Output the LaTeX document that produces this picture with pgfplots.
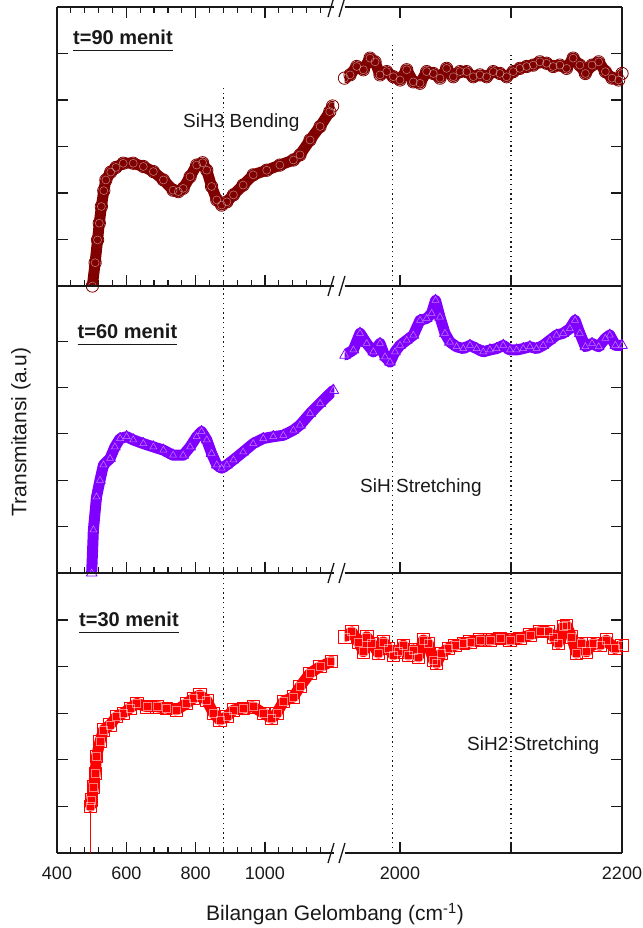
\documentclass[border=0pt]{standalone}
\usepackage{pgfplots}
\pgfplotsset{compat=1.18}
\usepackage{fontspec}
\setmainfont{Liberation Sans}
\newcommand\fs[1]{\fontsize{#1}{#1}\selectfont}
\definecolor{c90}{RGB}{128,0,0}
\definecolor{c60}{RGB}{128,0,255}
\definecolor{c30}{RGB}{255,0,0}
\definecolor{axc}{RGB}{25,25,25}
\pgfplotsset{
  base/.style={scale only axis, anchor=south west, ymin=0, tick align=inside,
    major tick length=11pt, minor tick length=6pt,
    axis line style={line width=1.3pt, draw=axc},
    major tick style={line width=1.2pt, draw=axc},
    minor tick style={line width=1.2pt, draw=axc},
    ytick={0,1,2,3,4,5}, yticklabels={},
    axis x line*=box,
    /pgf/number format/assume math mode=true,
    xticklabel style={font=\fs{18}, inner sep=0pt, yshift=-14pt, text=axc},
    clip=true},
  leftax/.style={base, axis y line*=left, xmin=400, xmax=1200, width=277.3pt,
    xtick={400,600,800,1000}, minor xtick={440,480,...,1160}},
  rightax/.style={base, axis y line*=right, xmin=1950, xmax=2200, width=277.5pt,
    xtick={2000,2100,2200}},
  dotl/.style={axc, line width=1.3pt, dash pattern=on 1.4pt off 3.4pt, forget plot},
  band/.style={#1, line width=11pt, line join=round, line cap=round, mark size=6.2pt,
    mark options={solid, line width=0.8pt, draw=#1, fill=none}},
  tex/.style={only marks, mark size=4pt,
    mark options={solid, line width=0.5pt, draw=white, fill=none, draw opacity=0.5}},
}
\begin{document}
\begin{tikzpicture}[x=1pt,y=1pt]
\useasboundingbox (0,0) rectangle (642,928);

% ---------------- panel 1 (t=90) ----------------
\pgfplotstableread{
x y
498 -0.3
502 0
510 0.5
517 0.99
522 1.35
528 1.71
535 2.05
541 2.28
555 2.45
570 2.55
591 2.64
620 2.64
649 2.57
678 2.46
707 2.28
735 2.06
750 2.03
764 2.10
784 2.35
803 2.60
820 2.65
832 2.49
846 2.14
861 1.85
875 1.74
890 1.81
909 1.96
937 2.17
966 2.39
1005 2.49
1043 2.60
1082 2.71
1101 2.82
1130 3.14
1159 3.43
1187 3.75
1195 3.87
}\pone
\pgfplotstableread{
x y
1950 4.47
1955 4.54
1961 4.72
1967 4.65
1973 4.90
1977.5 4.82
1982 4.54
1988 4.61
1994 4.50
2000 4.43
2006 4.65
2012 4.39
2018 4.36
2024 4.61
2030 4.57
2036 4.47
2042 4.68
2048 4.50
2054 4.61
2060 4.61
2066 4.50
2072 4.54
2078 4.50
2084 4.61
2090 4.57
2096 4.50
2102 4.61
2108 4.68
2114 4.72
2120 4.75
2126 4.82
2132 4.79
2138 4.72
2144 4.75
2150 4.68
2156 4.90
2162 4.75
2167 4.57
2173 4.75
2179 4.82
2185 4.61
2191 4.47
2197 4.43
2200 4.57
}\ponr
\begin{axis}[leftax, at={(57pt,642pt)}, height=279pt, ymax=6, xticklabels={}, xtick pos=both]
\addplot[dotl] coordinates {(880,0) (880,4.32)};
\addplot[band=c90, mark=o] table {\pone};
\addplot[tex, mark=o] table {\pone};
\end{axis}
\begin{axis}[rightax, at={(344.5pt,642pt)}, height=279pt, ymax=6, xticklabels={}, xtick pos=both]
\addplot[dotl] coordinates {(1993,0) (1993,5.18)};
\addplot[dotl] coordinates {(2100,0) (2100,4.97)};
\addplot[band=c90, mark=o] table {\ponr};
\addplot[tex, mark=o] table {\ponr};
\end{axis}

% ---------------- panel 2 (t=60) ----------------
\pgfplotstableread{
x y
495 -0.3
500 0
505 0.93
514 1.64
524 2.00
534 2.33
553 2.47
567 2.72
582 2.90
601 2.94
620 2.87
649 2.79
678 2.72
707 2.65
735 2.54
764 2.54
784 2.72
803 2.94
817 3.05
832 2.87
846 2.58
861 2.33
875 2.26
890 2.33
909 2.44
937 2.61
966 2.79
995 2.90
1024 2.94
1053 2.97
1082 3.08
1101 3.19
1130 3.44
1159 3.66
1197 3.94
}\ptwo
\pgfplotstableread{
x y
1950.5 4.70
1958 4.81
1964 5.17
1970 4.95
1976 4.77
1982 4.95
1986.5 4.66
1991 4.55
1995.5 4.77
2000 4.91
2006 5.02
2012 5.13
2018 5.45
2024 5.49
2028.5 5.60
2032 5.88
2036 5.52
2040.5 5.17
2045 4.98
2051 4.88
2057 4.84
2063 4.91
2069 4.84
2075 4.77
2081 4.81
2087 4.84
2093 4.91
2099 4.81
2105 4.81
2111 4.84
2117 4.88
2123 4.84
2129 4.91
2135 5.02
2141 5.13
2147 5.17
2153 5.27
2157.7 5.45
2162 5.17
2167 4.88
2173 4.95
2179 4.88
2185 5.06
2189 5.13
2194 4.91
2200 4.91
}\ptwr
\begin{axis}[leftax, at={(57pt,355pt)}, height=287pt, ymax=6.19, xticklabels={}, xtick pos=left]
\addplot[dotl] coordinates {(880,0) (880,6.19)};
\addplot[band=c60, mark=triangle] table {\ptwo};
\addplot[tex, mark=triangle] table {\ptwo};
\end{axis}
\begin{axis}[rightax, at={(344.5pt,355pt)}, height=287pt, ymax=6.19, xticklabels={}, xtick pos=left]
\addplot[dotl] coordinates {(1993,0) (1993,6.19)};
\addplot[dotl] coordinates {(2100,0) (2100,6.19)};
\addplot[band=c60, mark=triangle] table {\ptwr};
\addplot[tex, mark=triangle] table {\ptwr};
\end{axis}

% ---------------- panel 3 (t=30) ----------------
\pgfplotstableread{
x y
497 1.0
500 1.14
505 1.42
510 1.71
514 2.07
524 2.39
534 2.64
553 2.75
572 2.93
591 3.00
611 3.11
630 3.21
659 3.14
688 3.14
716 3.11
745 3.07
774 3.21
793 3.32
812 3.39
832 3.28
851 3.00
870 2.85
890 2.93
909 3.07
937 3.11
966 3.14
995 3.00
1019 2.89
1034 3.00
1053 3.25
1082 3.35
1101 3.57
1130 3.86
1159 4.00
1192 4.11
}\pthr
\pgfplotstableread{
x y
1950.5 4.64
1956.5 4.75
1962.5 4.53
1967 4.32
1970 4.64
1974.5 4.50
1980.5 4.29
1985 4.53
1989.5 4.39
1994 4.25
1998.5 4.32
2003 4.46
2007.5 4.25
2012 4.36
2016.5 4.21
2021 4.57
2025.5 4.50
2030 4.14
2033 4.07
2037.5 4.29
2043.5 4.39
2049.5 4.46
2057 4.50
2063 4.53
2072 4.57
2081 4.57
2090 4.61
2099 4.57
2108 4.61
2117 4.68
2126 4.75
2133.5 4.75
2138 4.64
2142.5 4.50
2147 4.86
2150 4.89
2154.5 4.64
2159 4.29
2163.5 4.50
2168 4.32
2174 4.50
2180 4.46
2186 4.57
2193.5 4.39
2200 4.46
}\pthrr
\begin{axis}[leftax, at={(57pt,75pt)}, height=280pt, ymax=6.01, xtick pos=left,
  xticklabels={400,600,800,1000}]
\addplot[dotl] coordinates {(880,0) (880,6.01)};
\addplot[c30, line width=1.5pt, forget plot] coordinates {(497,-0.3) (497,1.0)};
\addplot[band=c30, mark=square] table {\pthr};
\addplot[tex, mark=square] table {\pthr};
\end{axis}
\begin{axis}[rightax, at={(344.5pt,75pt)}, height=280pt, ymax=6.01, xtick pos=left,
  xticklabels={2000,,2200}]
\addplot[dotl] coordinates {(1993,0) (1993,6.01)};
\addplot[dotl] coordinates {(2100,0) (2100,6.01)};
\addplot[band=c30, mark=square] table {\pthrr};
\addplot[tex, mark=square] table {\pthrr};
\end{axis}

% ---------------- axis breaks ----------------
\foreach \yy in {921,642,355,75}{
  \draw[axc, line width=1.3pt] (328,\yy-10) -- (334,\yy+10);
  \draw[axc, line width=1.3pt] (339,\yy-10) -- (345,\yy+10);
}

% ---------------- texts ----------------
\node[anchor=base west, inner sep=0, font=\bfseries\fs{20}, text=axc] (t90) at (73,883) {t=90 menit};
\draw[axc, line width=1.6pt] ([yshift=-5.5pt]t90.base west) -- ([yshift=-5.5pt]t90.base east);
\node[anchor=base west, inner sep=0, font=\bfseries\fs{20}, text=axc] (t60) at (77.5,589) {t=60 menit};
\draw[axc, line width=1.6pt] ([yshift=-5.5pt]t60.base west) -- ([yshift=-5.5pt]t60.base east);
\node[anchor=base west, inner sep=0, font=\bfseries\fs{20}, text=axc] (t30) at (79,301) {t=30 menit};
\draw[axc, line width=1.6pt] ([yshift=-5.5pt]t30.base west) -- ([yshift=-5.5pt]t30.base east);

\node[anchor=base west, inner sep=0, font=\fs{19}, text=axc] at (183,800) {SiH3 Bending};
\node[anchor=base west, inner sep=0, font=\fs{19}, text=axc] at (360,435) {SiH Stretching};
\node[anchor=base west, inner sep=0, font=\fs{19}, text=axc] at (467,177) {SiH2 Stretching};

\node[rotate=90, font=\fs{21}, text=axc] at (21,496) {Transmitansi (a.u)};
\node[anchor=base, font=\fs{21}, text=axc, inner sep=0] at (335,7) {Bilangan Gelombang (cm\textsuperscript{-1})};
\end{tikzpicture}
\end{document}
